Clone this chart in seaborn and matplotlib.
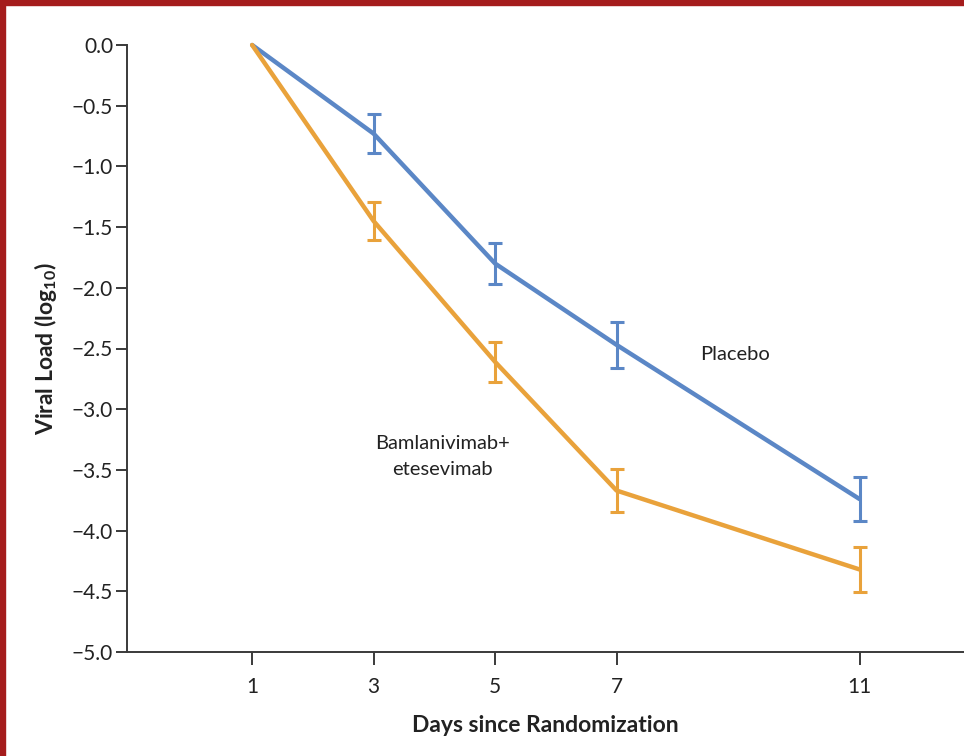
import numpy as np
import pandas as pd
import matplotlib
matplotlib.use("Agg")
import matplotlib.pyplot as plt
from matplotlib.patches import Rectangle
import seaborn as sns

# values
days = [1, 3, 5, 7, 11]
placebo = [0.0, -0.73, -1.80, -2.47, -3.74]
placebo_err = [0.0, 0.16, 0.17, 0.19, 0.18]
bam_ete = [0.0, -1.45, -2.61, -3.67, -4.32]
bam_ete_err = [0.0, 0.155, 0.165, 0.175, 0.185]
y_ticks = [0.0, -0.5, -1.0, -1.5, -2.0, -2.5, -3.0, -3.5, -4.0, -4.5, -5.0]

blue = "#5b87c6"
orange = "#e9a23b"

df = pd.DataFrame({
    "day": days * 2,
    "load": placebo + bam_ete,
    "group": ["Placebo"] * 5 + ["Bamlanivimab+etesevimab"] * 5,
})

sns.set_style("white")
plt.rcParams["font.family"] = ["Lato", "DejaVu Sans"]
plt.rcParams["mathtext.fontset"] = "custom"
plt.rcParams["mathtext.rm"] = "Lato"
plt.rcParams["mathtext.bf"] = "Lato:bold"

fig = plt.figure(figsize=(9.64, 7.56), dpi=100)
ax = fig.add_axes([127 / 964, 1 - 652 / 756, 1 - 127 / 964, (652 - 45) / 756])

sns.lineplot(data=df, x="day", y="load", hue="group",
             palette={"Placebo": blue, "Bamlanivimab+etesevimab": orange},
             linewidth=3.2, legend=False, ax=ax, clip_on=False)

# error bars (none at day 1)
ax.errorbar(days[1:], placebo[1:], yerr=placebo_err[1:], fmt="none",
            ecolor=blue, elinewidth=2.2, capsize=5, capthick=2.2, clip_on=False)
ax.errorbar(days[1:], bam_ete[1:], yerr=bam_ete_err[1:], fmt="none",
            ecolor=orange, elinewidth=2.2, capsize=5, capthick=2.2, clip_on=False)

ax.set_xlim(-1.06, 12.72)
ax.set_ylim(-5.0, 0.0)
ax.set_xticks(days)
ax.set_xticklabels([str(d) for d in days])
ax.set_yticks(y_ticks)
ax.set_yticklabels(["0.0"] + ["\u2212%.1f" % abs(v) for v in y_ticks[1:]])

for s in ["top", "right"]:
    ax.spines[s].set_visible(False)
for s in ["left", "bottom"]:
    ax.spines[s].set_color("#3a3a3a")
    ax.spines[s].set_linewidth(1.4)
ax.tick_params(axis="y", direction="out", length=8, width=1.4, color="#3a3a3a",
               labelsize=15, pad=2, left=True, labelcolor="#222222")
ax.tick_params(axis="x", direction="out", length=9, width=1.4, color="#3a3a3a",
               labelsize=15, pad=9, bottom=True, labelcolor="#222222")

ax.set_xlabel("Days since Randomization", fontsize=16.5, fontweight="bold", labelpad=13,
              color="#222222")
ax.set_ylabel(r"Viral Load (log$_{\mathbf{10}}$)", fontsize=16.5, fontweight="bold",
              labelpad=9, color="#222222")

ax.text(8.95, -2.55, "Placebo", fontsize=14.5, ha="center", va="center", color="#222222")
ax.text(4.13, -3.39, "Bamlanivimab+\netesevimab", fontsize=14.5, ha="center", va="center",
        color="#222222", linespacing=1.6)

# dark red frame on left and top edge
fig.add_artist(Rectangle((0, 0), 5 / 964, 1, transform=fig.transFigure,
                         color="#a51c1c", zorder=10))
fig.add_artist(Rectangle((0, 1 - 5 / 756), 1, 5 / 756, transform=fig.transFigure,
                         color="#a51c1c", zorder=10))

fig.savefig("out.png", dpi=100)
